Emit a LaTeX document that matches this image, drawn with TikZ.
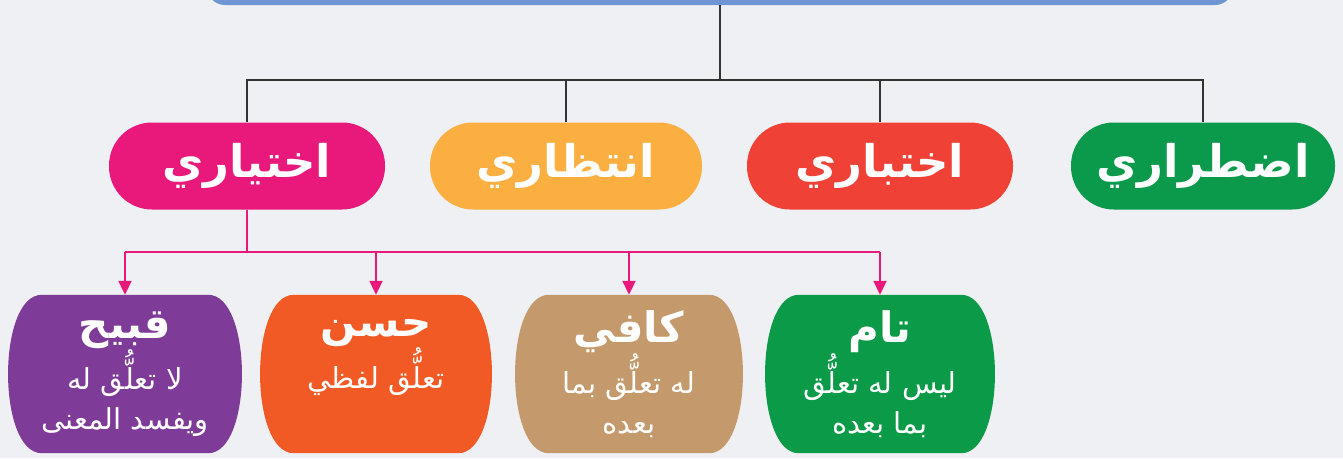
\documentclass[tikz,border=0pt]{standalone}
\usepackage{fontspec}
\newfontfamily\arabicfont[Script=Arabic]{DejaVu Sans}
\TeXXeTstate=1
\usetikzlibrary{arrows.meta}
\pgfdeclarelayer{bg}
\pgfdeclarelayer{mid}
\pgfsetlayers{bg,mid,main}
\definecolor{bgcol}{HTML}{EEF0F3}
\definecolor{cblue}{HTML}{6F96D2}
\definecolor{cpink}{HTML}{E8197A}
\definecolor{cyel}{HTML}{FBAF40}
\definecolor{cred}{HTML}{EF4136}
\definecolor{cgrn}{HTML}{0B9A4B}
\definecolor{cpur}{HTML}{7E3B98}
\definecolor{corg}{HTML}{F15A24}
\definecolor{ctan}{HTML}{C49A6C}
\definecolor{cgrn2}{HTML}{0B9A48}
\definecolor{cline}{HTML}{333333}
\newcommand\ar[1]{\beginR #1\endR}
\newcommand\ttl[1]{{\bfseries\fontsize{42}{42}\selectfont\beginR #1\endR}}
\newcommand\barrel[2]{%
  \fill[#2] ([xshift=34pt]#1.north west) -- ([xshift=-34pt]#1.north east)
    .. controls ([xshift=11pt]#1.north east) and ([xshift=11pt]#1.south east) .. ([xshift=-34pt]#1.south east)
    -- ([xshift=34pt]#1.south west)
    .. controls ([xshift=-11pt]#1.south west) and ([xshift=-11pt]#1.north west) .. cycle;}
\begin{document}
\begin{tikzpicture}[x=1pt,y=-1pt,
  pill/.style={rounded corners=43pt, minimum height=87pt, text=white, inner sep=0pt,
    font=\arabicfont\bfseries\fontsize{45}{50}\selectfont},
  card/.style={minimum height=158pt, text=white, inner sep=0pt, align=center,
    font=\arabicfont\fontsize{29}{40}\selectfont},
  tree/.style={draw=cline, line width=2pt},
  pinkline/.style={draw=cpink, line width=2pt},
  pinkarrow/.style={draw=cpink, line width=2pt, -{Triangle[width=13pt,length=14pt]}}
]
\useasboundingbox (0,0) rectangle (1343,458);
\begin{pgfonlayer}{bg}
\fill[bgcol] (0,0) rectangle (1343,458);
\end{pgfonlayer}
\clip (0,0) rectangle (1343,458);

\node[fill=cblue, rounded corners=18pt, minimum width=1026pt, minimum height=50pt, inner sep=0pt] (root) at (720,-20) {};

\node[pill, fill=cpink, minimum width=276pt] (ikh) at (247,166) {\ar{اختياري}};
\node[pill, fill=cyel, minimum width=272pt] (int) at (566,166) {\ar{انتظاري}};
\node[pill, fill=cred, minimum width=266pt] (ikb) at (880,166) {\ar{اختباري}};
\node[pill, fill=cgrn, minimum width=264pt] (idt) at (1203,166) {\ar{اضطراري}};

\coordinate (j) at (720,80);
\draw[tree] (root.south) -- (j);
\draw[tree] (ikh.north) |- (j) -| (idt.north);
\draw[tree] (int.north) -- (int.north |- j);
\draw[tree] (ikb.north) -- (ikb.north |- j);

\node[card, minimum width=234pt] (qab) at (125,374) {\ttl{قبيح}\\ \ar{لا تعلُّق له}\\ \ar{ويفسد المعنى}};
\node[card, minimum width=232pt] (has) at (376,374) {\ttl{حسن}\\ \ar{تعلُّق لفظي}\\ \mbox{}};
\node[card, minimum width=228pt] (kaf) at (629,374) {\ttl{كافي}\\ \ar{له تعلُّق بما}\\ \ar{بعده}};
\node[card, minimum width=230pt] (tam) at (880,374) {\ttl{تام}\\ \ar{ليس له تعلُّق}\\ \ar{بما بعده}};

\begin{pgfonlayer}{mid}
\barrel{qab}{cpur}
\barrel{has}{corg}
\barrel{kaf}{ctan}
\barrel{tam}{cgrn2}
\end{pgfonlayer}

\coordinate (k) at (247,252);
\draw[pinkline] (ikh.south) -- (k);
\draw[pinkline] (k -| qab.north) -- (k -| tam.north);
\draw[pinkarrow] (k -| qab.north) -- (qab.north);
\draw[pinkarrow] (k -| has.north) -- (has.north);
\draw[pinkarrow] (k -| kaf.north) -- (kaf.north);
\draw[pinkarrow] (k -| tam.north) -- (tam.north);
\end{tikzpicture}
\end{document}
